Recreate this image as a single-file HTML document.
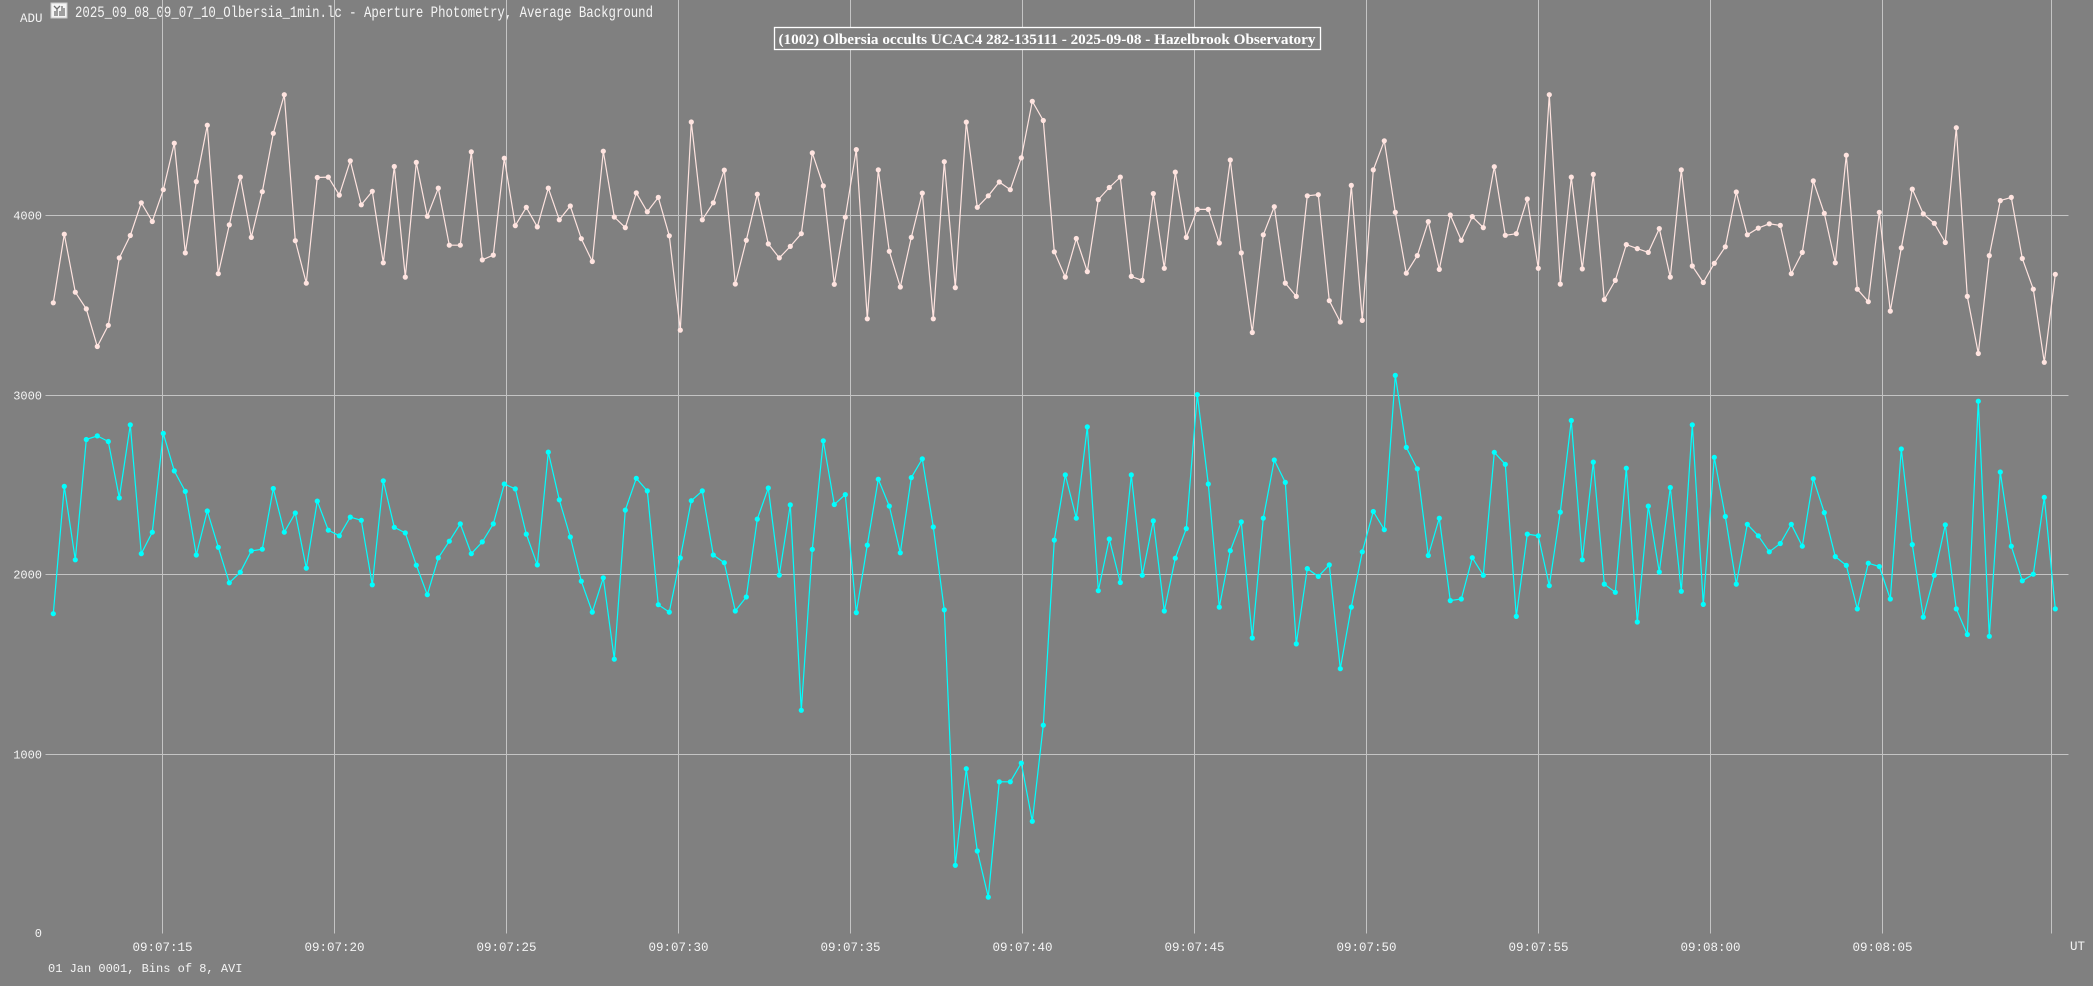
<!DOCTYPE html>
<html><head><meta charset="utf-8"><style>
html,body{margin:0;padding:0;background:#808080;overflow:hidden}
svg{display:block}
text{font-family:"Liberation Mono",monospace;fill:#f4f4f4}
</style></head><body>
<svg id="s" width="2093" height="986" viewBox="0 0 2093 986" xmlns="http://www.w3.org/2000/svg">
<rect width="2093" height="986" fill="#808080"/>
<rect x="51" y="3" width="16" height="15" fill="#f4f4f4" stroke="#c8c8c8"/>
<path d="M54 6 L57 9 L60 6 M57 9 V16 M55 11 V16 M60 11 V16 M62 6 V16 M64 8 V16" stroke="#707070" stroke-width="1.3" fill="none"/>
<text x="75" y="17" font-size="15.5" textLength="578" lengthAdjust="spacingAndGlyphs">2025_09_08_09_07_10_Olbersia_1min.lc - Aperture Photometry, Average Background</text>
<text x="20" y="22" font-size="12.5">ADU</text>
<g id="grid" stroke="#c4c4c4" stroke-width="1" fill="none"></g>
<g id="lbl"></g>
<g id="ser"></g>
<rect x="774.5" y="27.5" width="546" height="22" fill="#808080" stroke="#ffffff" stroke-width="1.3"/>
<text x="1047" y="44" text-anchor="middle" font-size="15" font-weight="bold" textLength="537" lengthAdjust="spacingAndGlyphs" style="font-family:'Liberation Serif',serif;fill:#fff">(1002) Olbersia occults UCAC4 282-135111 - 2025-09-08 - Hazelbrook Observatory</text>
<text x="48" y="972" font-size="12">01 Jan 0001, Bins of 8, AVI</text>
<text x="2070" y="950" font-size="12.5">UT</text>
</svg>
<script>
var W=[3511,3893,3570,3477,3268,3386,3761,3886,4068,3964,4141,4400,3789,4186,4500,3673,3945,4211,3875,4130,4455,4670,
3857,3620,4209,4211,4111,4302,4057,4132,3734,4270,3654,4293,3993,4150,3832,3832,4352,3750,3777,4316,3941,4043,3934,
4150,3973,4050,3868,3741,4355,3989,3930,4123,4018,4098,3884,3359,4518,3973,4068,4250,3616,3859,4116,3839,3761,3825,
3896,4346,4162,3614,3988,4364,3422,4251,3798,3599,3875,4122,3422,4297,3596,4517,4043,4107,4184,4141,4318,4633,
4526,3795,3654,3869,3685,4086,4153,4211,3658,3636,4119,3703,4239,3875,4031,4031,3844,4306,3789,3346,3890,4046,3621,
3547,4107,4113,3523,3404,4165,3413,4251,4413,4015,3676,3774,3963,3697,4000,3859,3991,3930,4269,3887,3896,4089,3703,
4670,3615,4211,3700,4226,3529,3636,3835,3813,3792,3924,3654,4251,3716,3624,3731,3823,4128,3890,3927,3951,3942,3673,
3792,4190,4009,3734,4333,3587,3517,4015,3465,3817,4144,4006,3954,3847,4486,3547,3229,3774,4080,4098,3758,3587,3180,3670];
var C=[1780,2489,2080,2750,2770,2739,2425,2832,2114,2234,2784,2575,2461,2107,2352,2150,1952,2011,2130,2139,2477,2234,
2341,2034,2407,2245,2214,2318,2300,1941,2520,2261,2230,2050,1886,2091,2184,2280,2114,2180,2280,2502,2475,2223,2052,
2680,2414,2207,1961,1789,1980,1527,2357,2534,2464,1830,1789,2091,2409,2464,2107,2064,1795,1873,2307,2480,1995,2386,
1242,2138,2743,2388,2443,1786,2162,2529,2379,2119,2538,2642,2263,1801,379,917,459,202,844,844,948,624,
1159,2190,2553,2312,2820,1908,2196,1954,2553,1994,2297,1795,2089,2254,3000,2502,1817,2131,2291,1645,2312,2636,2511,
1612,2031,1988,2052,1474,1817,2125,2349,2248,3107,2706,2587,2104,2312,1853,1862,2092,1994,2679,2612,1765,2223,2214,
1936,2346,2856,2080,2624,1945,1899,2590,1734,2379,2012,2483,1905,2832,1832,2651,2321,1945,2278,2214,2125,2171,2278,
2156,2532,2343,2098,2049,1807,2061,2043,1862,2697,2165,1761,1994,2275,1807,1664,2963,1654,2569,2156,1963,2000,2428,1807];
var NS="http://www.w3.org/2000/svg";
function el(t,a,p){var e=document.createElementNS(NS,t);for(var k in a)e.setAttribute(k,a[k]);p.appendChild(e);return e;}
var g=document.getElementById('grid'),L=document.getElementById('lbl'),S=document.getElementById('ser');
function Y(v){return 933.4-v*0.1796;}
var left=45.5,right=2068.5,top=25.5,bot=933.5;
el('rect',{x:left,y:top,width:right-left,height:bot-top},g);
[1000,2000,3000,4000].forEach(function(v){var y=Math.round(Y(v))+0.5;el('line',{x1:left,x2:right,y1:y,y2:y},g);
 var t=el('text',{x:42,y:y+4,'font-size':12,'text-anchor':'end'},L);t.textContent=v;});
var t0=el('text',{x:42,y:937,'font-size':12,'text-anchor':'end'},L);t0.textContent='0';
var labs=['09:07:15','09:07:20','09:07:25','09:07:30','09:07:35','09:07:40','09:07:45','09:07:50','09:07:55','09:08:00','09:08:05'];
labs.forEach(function(s,k){var x=Math.round(161.7+172*k)+0.5;el('line',{x1:x,x2:x,y1:top,y2:bot},g);
 var t=el('text',{x:x,y:951,'font-size':12.5,'text-anchor':'middle'},L);t.textContent=s;});
el('line',{x1:2051.5,x2:2051.5,y1:top,y2:bot},g);
function draw(D,col){var pts=D.map(function(v,i){return (53.3+i*11.0).toFixed(1)+','+Y(v).toFixed(1);});
 el('polyline',{points:pts.join(' '),fill:'none',stroke:col,'stroke-width':1.2},S);
 D.forEach(function(v,i){el('circle',{cx:(53.3+i*11.0).toFixed(1),cy:Y(v).toFixed(1),r:2.6,fill:col},S);});}
draw(W,'#ffe4e0');draw(C,'#00ffff');
</script>
</body></html>
